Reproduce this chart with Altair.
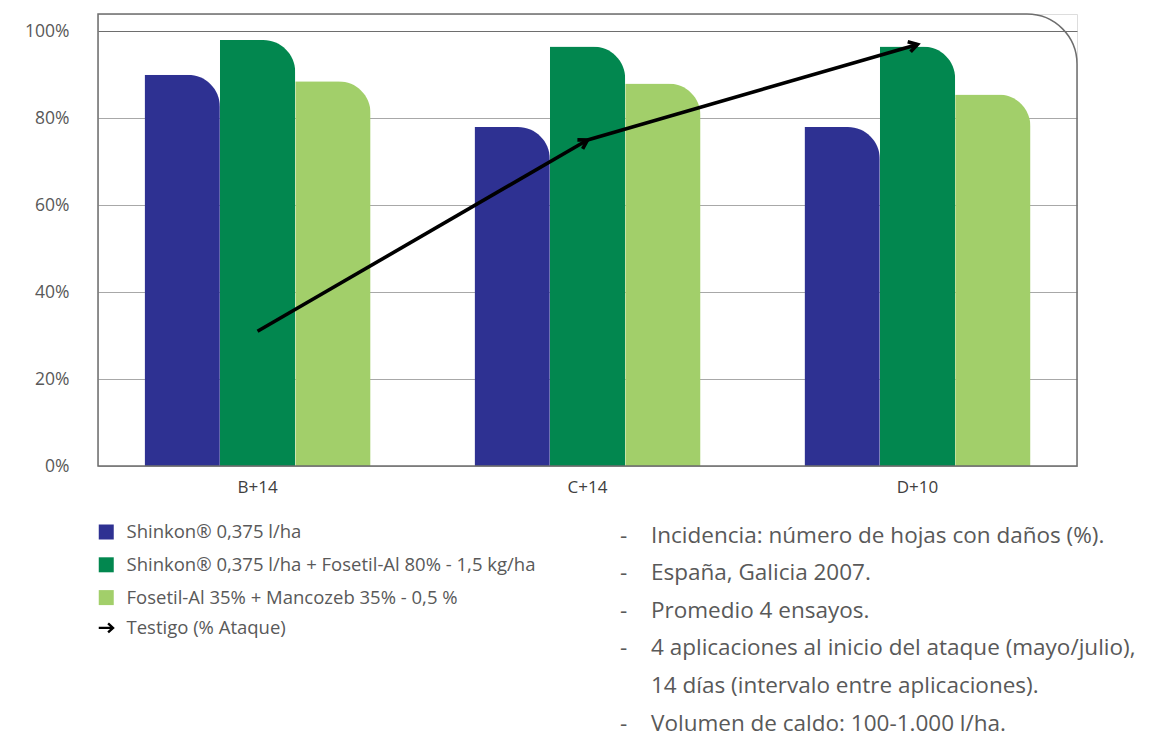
import math
import altair as alt
import pandas as pd

# ---------------- data ----------------
categories = ["B+14", "C+14", "D+10"]
series = [
    "Shinkon® 0,375 l/ha",
    "Shinkon® 0,375 l/ha + Fosetil-Al 80% - 1,5 kg/ha",
    "Fosetil-Al 35% + Mancozeb 35% - 0,5 %",
]
colors = ["#2e3192", "#02874f", "#a2cf6a"]
shinkon = [90, 78, 78]
shinkon_fosetil = [98, 96.5, 96.5]
fosetil_mancozeb = [88.5, 88, 85.5]

testigo_label = "Testigo (% Ataque)"
testigo = [31, 75, 97]

y_ticks = [0, 20, 40, 60, 80, 100]

notes = [
    "Incidencia: número de hojas con daños (%).",
    "España, Galicia 2007.",
    "Promedio 4 ensayos.",
    "4 aplicaciones al inicio del ataque (mayo/julio),",
    "14 días (intervalo entre aplicaciones).",
    "Volumen de caldo: 100-1.000 l/ha.",
]
note_has_dash = [True, True, True, True, False, True]

# ---------------- layout / style ----------------
W, H = 979, 452
Y_MAX = 104
P_INNER, P_OUTER = 0.315, 0.141
FONT = "Open Sans"
GRAY_TXT = "#595959"
LEG_FS = 18.5
LEG_ROW = 32.3
LEG_Y0 = 518 - LEG_FS / 2
NOTE_FS = 22.5

rows = []
for s, vals in zip(series, [shinkon, shinkon_fosetil, fosetil_mancozeb]):
    for c, v in zip(categories, vals):
        rows.append({"cat": c, "serie": s, "val": v})
bars_df = pd.DataFrame(rows)

color_scale = alt.Scale(domain=series, range=colors)
x_scale = alt.Scale(domain=categories, paddingInner=P_INNER, paddingOuter=P_OUTER)
y_scale = alt.Scale(domain=[0, Y_MAX], nice=False, zero=True)

legend_common = dict(
    orient="none", legendX=-1, direction="vertical", title=None,
    symbolSize=225, labelFont=FONT, labelFontSize=LEG_FS, labelColor=GRAY_TXT,
    labelOffset=11, rowPadding=LEG_ROW - LEG_FS, padding=0, labelLimit=700,
)
legend_bars = alt.Legend(legendY=LEG_Y0, symbolType="square", symbolStrokeWidth=0, **legend_common)
legend_arrow = alt.Legend(
    legendY=LEG_Y0 + len(series) * LEG_ROW - 1,
    symbolType="M-1,0L0.85,0M0.25,-0.6L0.9,0L0.25,0.6",
    symbolStrokeColor="#000000", symbolFillColor="transparent", symbolStrokeWidth=2.4,
    **legend_common,
)

bars = alt.Chart(bars_df).mark_bar(cornerRadiusTopRight=32).encode(
    x=alt.X("cat:N", scale=x_scale, sort=categories,
            axis=alt.Axis(title=None, labelAngle=0, domain=False, ticks=False,
                          labelFont=FONT, labelFontSize=17, labelColor="#404040",
                          labelPadding=13)),
    xOffset=alt.XOffset("serie:N", sort=series, scale=alt.Scale(paddingInner=0, paddingOuter=0)),
    y=alt.Y("val:Q", scale=y_scale,
            axis=alt.Axis(title=None, values=y_ticks, labelExpr="datum.value + '%'",
                          domain=False, ticks=False, grid=True,
                          gridColor={"condition": {"test": "datum.value === 100", "value": "#6e6e6e"},
                                     "value": "#a8a8a8"},
                          gridWidth=1.2,
                          labelFont=FONT, labelFontSize=17.5, labelColor=GRAY_TXT,
                          labelPadding=29)),
    color=alt.Color("serie:N", scale=color_scale, legend=legend_bars),
)

# Testigo arrows: two segments, each with an arrow head
step = W / (len(categories) - P_INNER + 2 * P_OUTER)
px_per_unit = H / Y_MAX
seg_rows, head_rows = [], []
for i in range(len(categories) - 1):
    seg = f"s{i}"
    seg_rows.append({"seg": seg, "cat": categories[i], "t": testigo[i], "o": 0, "lab": testigo_label})
    seg_rows.append({"seg": seg, "cat": categories[i + 1], "t": testigo[i + 1], "o": 1, "lab": testigo_label})
    dy = (testigo[i + 1] - testigo[i]) * px_per_unit
    ang = (-math.degrees(math.atan2(dy, step))) % 360
    head_rows.append({"cat": categories[i + 1], "t": testigo[i + 1], "ang": ang})
seg_df = pd.DataFrame(seg_rows)
head_df = pd.DataFrame(head_rows)

lines = alt.Chart(seg_df).mark_line(color="#000000", strokeWidth=3.6, strokeCap="butt").encode(
    x=alt.X("cat:N", scale=x_scale, sort=categories),
    y=alt.Y("t:Q", scale=y_scale),
    detail="seg:N",
    order="o:Q",
    opacity=alt.Opacity("lab:N", scale=alt.Scale(domain=[testigo_label], range=[1]), legend=legend_arrow),
)
heads = alt.Chart(head_df).mark_point(
    shape="M-1,-0.6L0,0L-1,0.6", filled=False, stroke="#000000", strokeWidth=3.6, size=300, opacity=1
).encode(
    x=alt.X("cat:N", scale=x_scale, sort=categories),
    y=alt.Y("t:Q", scale=y_scale),
    angle=alt.Angle("ang:Q", scale=None),
)

frame = alt.Chart(pd.DataFrame({"a": [0]})).mark_rect(
    filled=False, stroke="#6e6e6e", strokeWidth=1.5, cornerRadiusTopRight=50
).encode(x=alt.value(0), x2=alt.value(W), y=alt.value(0), y2=alt.value(H))

# notes block
NOTE_X_DASH, NOTE_X_TEXT = 522, 553
NOTE_Y0, NOTE_LH = 528.5, 37.6
note_layers = []
for i, (txt, dash) in enumerate(zip(notes, note_has_dash)):
    yv = NOTE_Y0 + i * NOTE_LH
    d = pd.DataFrame({"t": [txt], "d": ["-"]})
    note_layers.append(alt.Chart(d).mark_text(
        align="left", baseline="alphabetic", font=FONT, fontSize=NOTE_FS, color=GRAY_TXT
    ).encode(x=alt.value(NOTE_X_TEXT), y=alt.value(yv), text="t:N"))
    if dash:
        note_layers.append(alt.Chart(d).mark_text(
            align="left", baseline="alphabetic", font=FONT, fontSize=NOTE_FS, color=GRAY_TXT
        ).encode(x=alt.value(NOTE_X_DASH), y=alt.value(yv), text="d:N"))

chart = alt.layer(bars, lines, heads, frame, *note_layers).properties(
    width=W, height=H,
    autosize=alt.AutoSizeParams(type="none"),
    padding={"left": 90, "top": 6, "right": 84, "bottom": 270},
).configure_view(stroke=None).configure(background="white")

chart.save("out.html", embed_options={"renderer": "svg", "actions": False})
